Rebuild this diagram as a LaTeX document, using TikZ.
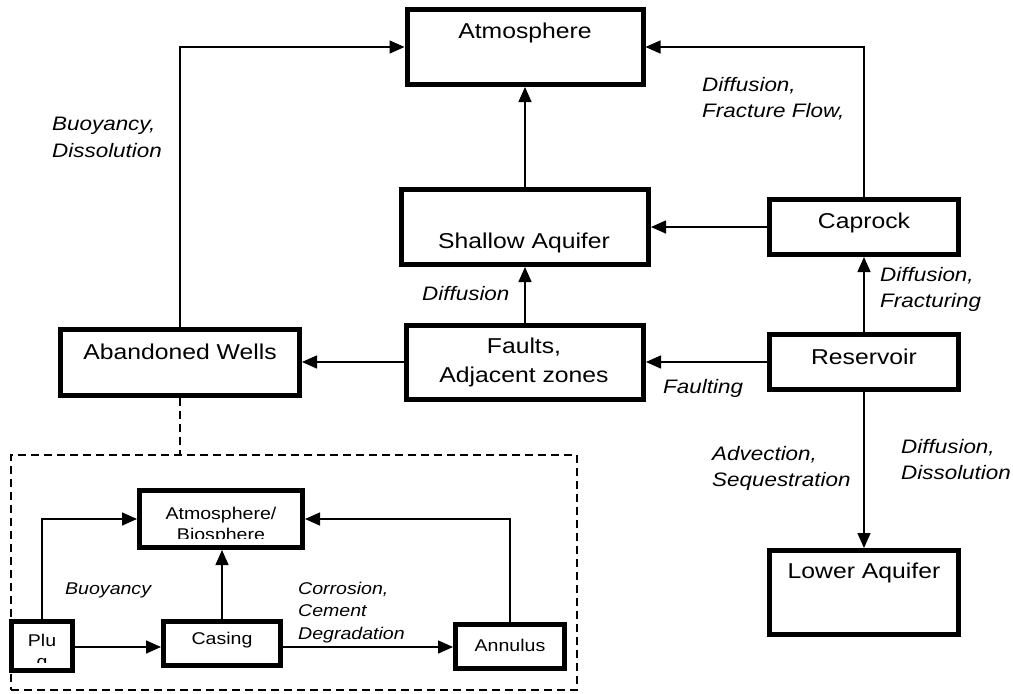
\documentclass[tikz,border=0pt]{standalone}
\usepackage{fontspec}
\setmainfont{Liberation Sans}[FakeStretch=1.15]
\usetikzlibrary{arrows.meta}
\begin{document}
\begin{tikzpicture}[x=1pt,y=-1pt,
  box/.style={draw, line width=5pt, fill=white, inner sep=0pt},
  flow/.style={line width=1.5pt, -{Triangle[length=15pt,width=13pt]}},
  well/.style={line width=1.5pt, dash pattern=on 8pt off 5pt},
  maintext/.style={inner sep=0pt, align=center, font=\fontsize{21.5}{29}\selectfont},
  mainlabel/.style={inner sep=0pt, anchor=west, align=left, font=\fontsize{19.5}{26.5}\selectfont\itshape},
  smalltext/.style={inner sep=0pt, align=center, font=\fontsize{17}{21}\selectfont},
  smalllabel/.style={inner sep=0pt, anchor=west, align=left, font=\fontsize{17}{22.5}\selectfont\itshape}]
\useasboundingbox (0,0) rectangle (1013,694);

% storage system boxes
\node[box, minimum width=236pt, minimum height=75pt] (atm)  at (525,47)    {};
\node[box, minimum width=247pt, minimum height=75pt] (shal) at (525,227)   {};
\node[box, minimum width=189pt, minimum height=55pt] (cap)  at (864,227)   {};
\node[box, minimum width=189pt, minimum height=55pt] (res)  at (864,362)   {};
\node[box, minimum width=237pt, minimum height=74pt] (flt)  at (525,362)   {};
\node[box, minimum width=239pt, minimum height=66pt] (aw)   at (180,362)   {};
\node[box, minimum width=189pt, minimum height=84pt] (low)  at (864,592.5) {};

\node[maintext] (atmT)  at (525,33)  {Atmosphere};
\node[maintext] (shalT) at (524,243) {Shallow Aquifer};
\node[maintext] (capT)  at (864,223) {Caprock};
\node[maintext] (resT)  at (864,357) {Reservoir};
\node[maintext] (fltT)  at (524,362.5) {Faults,\\Adjacent zones};
\node[maintext] (awT)   at (180,352) {Abandoned Wells};
\node[maintext] (lowT)  at (864,573) {Lower Aquifer};

% leakage pathways
\draw[flow] (aw.north) |- (atm.west);
\draw[flow] (cap.north) |- (atm.east);
\draw[flow] (shal.north) -- (atm.south);
\draw[flow] (cap.west) -- (shal.east);
\draw[flow] (flt.north) -- (shal.south);
\draw[flow] (res.west) -- (flt.east);
\draw[flow] (flt.west) -- (aw.east);
\draw[flow] (res.north) -- (cap.south);
\draw[flow] (res.south) -- (low.north);

\node[mainlabel] (lbBuoy) at (52,137.5)  {Buoyancy,\\Dissolution};
\node[mainlabel] (lbFrac) at (702,98.5)  {Diffusion,\\Fracture Flow,};
\node[mainlabel] (lbDiff) at (422,294)   {Diffusion};
\node[mainlabel] (lbFlt)  at (663,388)   {Faulting};
\node[mainlabel] (lbCap)  at (880,289.5) {Diffusion,\\Fracturing};
\node[mainlabel] (lbAdv)  at (712,468.5) {Advection,\\Sequestration};
\node[mainlabel] (lbDis)  at (901,459.5) {Diffusion,\\Dissolution};

% abandoned well detail
\node[draw, well, inner sep=0pt, minimum width=566pt, minimum height=235pt] (detail) at (294,572.5) {};
\draw[well] (aw.south) -- (aw.south |- detail.north);

\node[box, minimum width=163pt, minimum height=57pt] (ab)   at (221,519)   {};
\node[box, minimum width=61pt,  minimum height=49pt] (plug) at (42,646)    {};
\node[box, minimum width=117pt, minimum height=44pt] (cas)  at (222,643.5) {};
\node[box, minimum width=109pt, minimum height=44pt] (ann)  at (510,646.5) {};

% text cut off by the box interior
\begin{scope}
  \clip (140,491) rectangle (302,538);
  \node[smalltext] (abT) at (221,526) {Atmosphere/\\Biosphere};
\end{scope}
\begin{scope}
  \clip (12,622) rectangle (72,662);
  \node[smalltext] (plugT) at (42,652.5) {Plu\\g};
\end{scope}
\node[smalltext] (casT) at (222,640) {Casing};
\node[smalltext] (annT) at (510,645) {Annulus};

\coordinate (innerrow) at (0,647);
\draw[flow] (plug.north) |- (ab.west);
\draw[flow] (ann.north) |- (ab.east);
\draw[flow] (cas.north) -- (cas.north |- ab.south);
\draw[flow] (plug.east |- innerrow) -- (cas.west |- innerrow);
\draw[flow] (cas.east |- innerrow) -- (ann.west |- innerrow);

\node[smalllabel] (lbPlug) at (65,590)    {Buoyancy};
\node[smalllabel] (lbCor)  at (298,612.5) {Corrosion,\\Cement\\Degradation};
\end{tikzpicture}
\end{document}
